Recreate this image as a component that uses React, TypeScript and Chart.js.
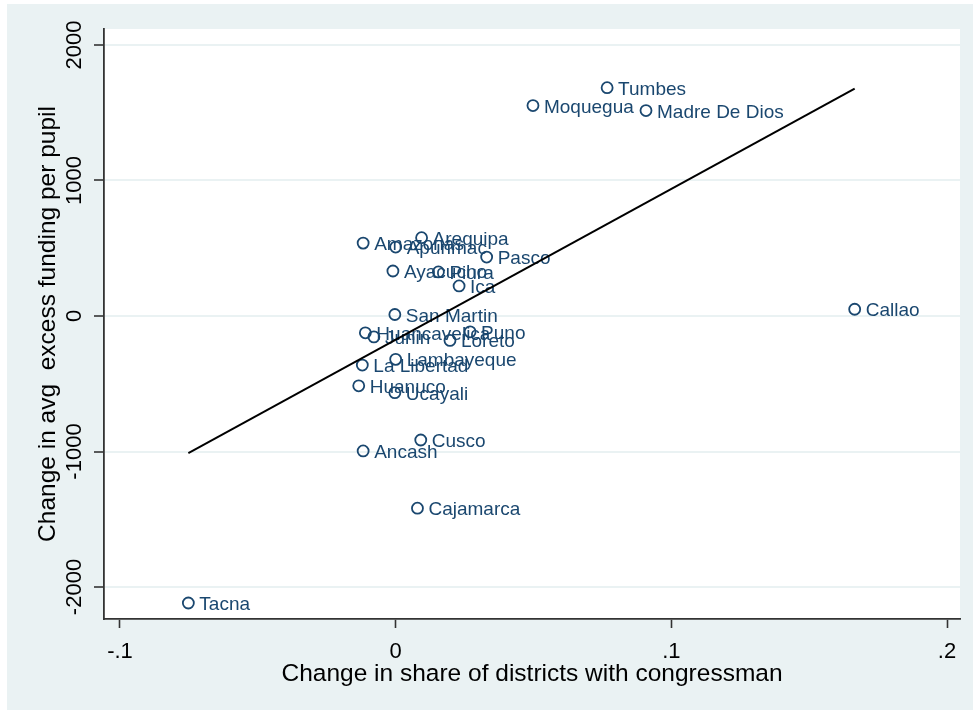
import React, { useEffect, useRef } from "react";
import { Chart, registerables } from "chart.js";

Chart.register(...registerables);

const regions = [
  "Tumbes", "Moquegua", "Madre De Dios", "Callao", "Arequipa", "Amazonas",
  "Apurimac", "Pasco", "Ayacucho", "Piura", "Ica", "San Martin",
  "Huancavelica", "Junin", "Puno", "Loreto", "Lambayeque", "La Libertad",
  "Huanuco", "Ucayali", "Cusco", "Ancash", "Cajamarca", "Tacna",
];
const shareChange = [
  0.0767, 0.0498, 0.0908, 0.1665, 0.0094, -0.0118,
  0.0, 0.033, -0.001, 0.0155, 0.023, -0.0003,
  -0.011, -0.0079, 0.027, 0.0197, 0.0, -0.0121,
  -0.0134, -0.0003, 0.0091, -0.0118, 0.0079, -0.0752,
];
const fundingChange = [
  1685, 1553, 1516, 50, 578, 538,
  509, 435, 332, 325, 222, 11,
  -124, -154, -117, -180, -320, -362,
  -515, -566, -915, -996, -1418, -2118,
];
const fitX = [-0.0752, 0.1665];
const fitY = [-1011, 1678];
const xTicks = [-0.1, 0, 0.1, 0.2];
const xTickLabels = ["-.1", "0", ".1", ".2"];
const yTicks = [-2000, -1000, 0, 1000, 2000];
const yTickLabels = ["-2000", "-1000", "0", "1000", "2000"];

const NAVY = "#1A476F";
const BG = "#EAF2F3";
const FONT = "'Liberation Sans', Arial, sans-serif";

export default function App() {
  const ref = useRef<HTMLCanvasElement | null>(null);
  useEffect(() => {
    document.body.style.margin = "0";
    const canvas = ref.current!;
    const bgPlugin = {
      id: "bg",
      beforeDraw(chart: any) {
        const { ctx, chartArea } = chart;
        ctx.save();
        ctx.fillStyle = "#ffffff";
        ctx.fillRect(0, 0, chart.width, chart.height);
        ctx.fillStyle = BG;
        ctx.fillRect(7, 4, chart.width - 7, chart.height - 4);
        ctx.fillStyle = "#ffffff";
        ctx.fillRect(chartArea.left, chartArea.top, chartArea.right - chartArea.left, chartArea.bottom - chartArea.top);
        ctx.restore();
      },
    };
    const labelPlugin = {
      id: "pointLabels",
      afterDatasetDraw(chart: any, args: any) {
        if (args.index !== 1) return;
        const { ctx } = chart;
        const xs = chart.scales.x;
        const ys = chart.scales.y;
        ctx.save();
        ctx.font = `19px ${FONT}`;
        ctx.fillStyle = NAVY;
        ctx.textAlign = "left";
        ctx.textBaseline = "alphabetic";
        regions.forEach((name, i) => {
          const px = xs.getPixelForValue(shareChange[i]);
          const py = ys.getPixelForValue(fundingChange[i]);
          ctx.fillText(name, px + 11, py + 7);
        });
        ctx.restore();
      },
      afterDraw(chart: any) {
        const { ctx } = chart;
        const ys = chart.scales.y;
        ctx.save();
        ctx.font = `22px ${FONT}`;
        ctx.fillStyle = "#000000";
        ctx.textAlign = "center";
        ctx.textBaseline = "middle";
        yTicks.forEach((v, i) => {
          const py = ys.getPixelForValue(v);
          ctx.save();
          ctx.translate(75, py);
          ctx.rotate(-Math.PI / 2);
          ctx.fillText(yTickLabels[i], 0, 0);
          ctx.restore();
        });
        ctx.restore();
      },
    };
    const chart = new Chart(canvas, {
      type: "scatter",
      data: {
        datasets: [
          {
            type: "line",
            data: fitX.map((x, i) => ({ x, y: fitY[i] })),
            borderColor: "#000000",
            borderWidth: 2,
            pointRadius: 0,
            fill: false,
            tension: 0,
          } as any,
          {
            type: "scatter",
            data: shareChange.map((x, i) => ({ x, y: fundingChange[i] })),
            pointStyle: "circle",
            pointRadius: 5.5,
            pointBorderWidth: 1.8,
            pointBorderColor: NAVY,
            pointBackgroundColor: "rgba(0,0,0,0)",
          } as any,
        ],
      },
      options: {
        responsive: false,
        animation: false,
        devicePixelRatio: 1,
        layout: { padding: { left: 0, top: 29, right: 13, bottom: 0 } },
        plugins: { legend: { display: false }, tooltip: { enabled: false } },
        scales: {
          x: {
            type: "linear",
            min: -0.1058,
            max: 0.2047,
            afterBuildTicks: (s: any) => {
              s.ticks = xTicks.map((v) => ({ value: v }));
            },
            afterFit: (s: any) => {
              s.height = 91;
            },
            ticks: {
              font: { family: FONT, size: 22 },
              color: "#000000",
              padding: 11,
              maxRotation: 0,
              autoSkip: false,
              callback: (v: any) => {
                const idx = xTicks.findIndex((t) => Math.abs(t - v) < 1e-9);
                return idx >= 0 ? xTickLabels[idx] : "";
              },
            },
            grid: {
              drawOnChartArea: false,
              drawTicks: true,
              tickLength: 9,
              tickColor: "#333333",
              tickWidth: 1.6,
            },
            border: { color: "#333333", width: 1.8 },
            title: {
              display: true,
              text: "Change in share of districts with congressman",
              font: { family: FONT, size: 24.5 },
              color: "#000000",
              padding: { top: 0, bottom: 21 },
            },
          },
          y: {
            type: "linear",
            min: -2236,
            max: 2118,
            afterBuildTicks: (s: any) => {
              s.ticks = yTicks.map((v) => ({ value: v }));
            },
            afterFit: (s: any) => {
              s.width = 104;
            },
            ticks: { display: false },
            grid: {
              color: BG,
              lineWidth: 2,
              drawTicks: true,
              tickLength: 10,
              tickColor: "#333333",
              tickWidth: 1.6,
            },
            border: { color: "#333333", width: 1.8 },
            title: {
              display: true,
              text: "Change in avg  excess funding per pupil",
              font: { family: FONT, size: 24.5 },
              color: "#000000",
              padding: { top: 34, bottom: 0 },
            },
          },
        },
      },
      plugins: [bgPlugin, labelPlugin],
    });
    return () => chart.destroy();
  }, []);
  return (
    <div style={{ width: 973, height: 710 }}>
      <canvas ref={ref} width={973} height={710} style={{ width: 973, height: 710, display: "block" }} />
    </div>
  );
}
